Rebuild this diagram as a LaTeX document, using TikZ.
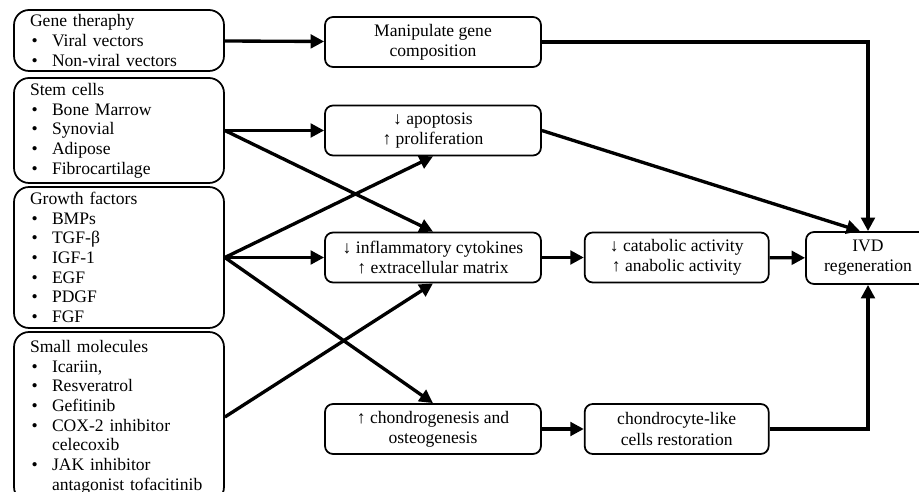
\documentclass[tikz,border=0pt]{standalone}
\usepackage{fontspec}
\setmainfont{Liberation Serif}
\usetikzlibrary{arrows.meta,positioning}
\newcommand{\itm}[1]{\makebox[0.44cm][l]{\hspace{0.03cm}•}#1}
\newcommand{\cont}[1]{\hspace*{0.44cm}#1}

\begin{document}
\begin{tikzpicture}[x=0.02cm,y=-0.02cm,
  src/.style={draw,line width=1pt,rounded corners=0.3cm,text width=3.56cm,inner xsep=0.32cm,inner ysep=1pt,align=left,font=\fontsize{10}{11.2}\selectfont},
  effect/.style={draw,line width=1pt,rounded corners=0.16cm,minimum height=1cm,align=center,font=\fontsize{10}{11.4}\selectfont},
  arrow/.style={-{Triangle[length=0.27cm,width=0.27cm]},line width=1.9pt}
]
\useasboundingbox (0,0) rectangle (919,492);
% sources
\node[src,minimum height=1.22cm] (gene) at (119,40.5) {Gene theraphy\\ \itm{Viral vectors}\\ \itm{Non-viral vectors}};
\node[src,minimum height=2.1cm] (stem) at (119,130.5) {Stem cells\\ \itm{Bone Marrow}\\ \itm{Synovial}\\ \itm{Adipose}\\ \itm{Fibrocartilage}};
\node[src,minimum height=2.82cm] (growth) at (119,257.5) {Growth factors\\ \itm{BMPs}\\ \itm{TGF-β}\\ \itm{IGF-1}\\ \itm{EGF}\\ \itm{PDGF}\\ \itm{FGF}};
\node[src,minimum height=3.4cm] (small) at (119,417) {Small molecules\\ \itm{Icariin,}\\ \itm{Resveratrol}\\ \itm{Gefitinib}\\ \itm{COX-2 inhibitor}\\ \cont{celecoxib}\\ \itm{JAK inhibitor}\\ \cont{antagonist tofacitinib}};
% effects
\node[effect,minimum width=4.32cm] (manip) at (433,42) {Manipulate gene\\ composition};
\node[effect,minimum width=4.32cm] (apop) at (433,130.5) {↓ apoptosis\\ ↑ proliferation};
\node[effect,minimum width=4.32cm] (inflam) at (433,257.5) {↓ inflammatory cytokines\\ ↑ extracellular matrix};
\node[effect,minimum width=4.32cm] (chondro) at (433,429) {↑ chondrogenesis and\\ osteogenesis};
\node[effect,minimum width=3.68cm,right=0.84cm of inflam] (catab) {↓ catabolic activity\\ ↑ anabolic activity};
\node[effect,minimum width=3.68cm,right=0.84cm of chondro] (restor) {chondrocyte-like\\ cells restoration};
\node[effect,minimum width=2.48cm,minimum height=1.04cm] (ivd) at (868,258) {IVD\\ regeneration};
% connectors
\draw[arrow] (gene) -- (manip);
\draw[arrow] (manip.east) -| (ivd.north);
\draw[arrow] (stem.east) -- (apop.west);
\draw[arrow] (stem.east) -- (inflam.north);
\draw[arrow] (growth.east) -- (apop.south);
\draw[arrow] (growth.east) -- (inflam.west);
\draw[arrow] (growth.east) -- (chondro.north);
\draw[arrow] (small.east) -- (inflam.south);
\draw[arrow] (apop.east) -- ([xshift=-0.16cm]ivd.north);
\draw[arrow] (inflam) -- (catab);
\draw[arrow] (catab) -- (ivd);
\draw[arrow] (chondro) -- (restor);
\draw[arrow] (restor.east) -| (ivd.south);
\end{tikzpicture}
\end{document}
